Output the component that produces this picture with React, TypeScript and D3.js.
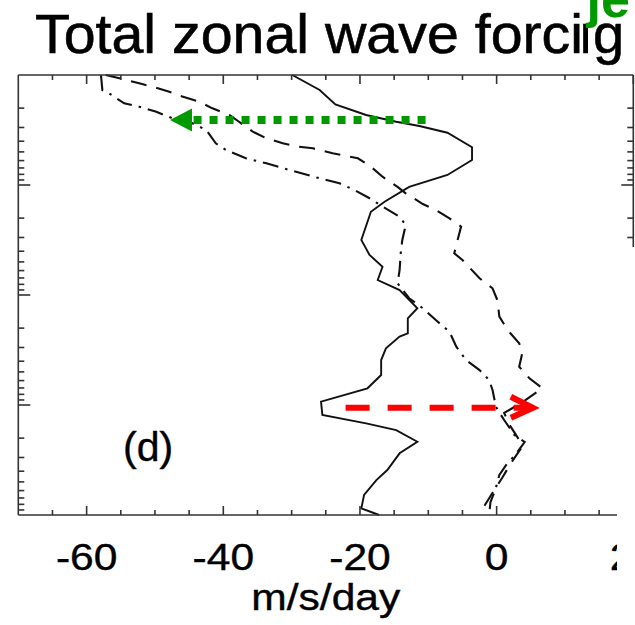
import React from "react";
import * as d3 from "d3";

const W = 635;
const H = 625;

// Solid curve: pressure levels (hPa) and forcing (m/s/day)
const solidP = [0.1, 0.137, 0.185, 0.231, 0.266, 0.291, 0.335, 0.454, 0.593, 0.811, 1.04, 1.42, 1.75, 3.16, 4.33, 5.53, 7.31, 9.01, 13.2, 16.3, 22.3, 23.9, 30.5, 39.0, 53.4, 70.5, 93.3, 123, 147, 169, 216, 275, 390, 481, 658, 869, 1000];
const solidU = [-29.9, -25.9, -23.6, -19.1, -14.7, -11.3, -7.2, -3.6, -3.6, -7.2, -12.8, -16.4, -18.4, -19.8, -18.6, -16.7, -17.4, -14.2, -11.6, -13.0, -13.0, -14.2, -16.2, -16.9, -16.9, -18.9, -25.7, -25.5, -19.1, -14.7, -11.6, -14.2, -16.0, -17.6, -19.4, -19.8, -17.2];

// Dashed curve
const dashedP = [0.1, 0.107, 0.119, 0.128, 0.142, 0.157, 0.175, 0.201, 0.231, 0.266, 0.327, 0.376, 0.418, 0.449, 0.464, 0.515, 0.572, 0.682, 0.841, 1.04, 1.19, 1.49, 1.69, 2.01, 2.39, 3.51, 4.18, 4.81, 7.05, 8.69, 11.1, 15.7, 20.8, 27.5, 32.7, 44.9, 57.2, 70.5, 95.9, 118, 152, 208, 246, 330, 461, 658, 846, 1000];
const dashedU = [-57.2, -55.2, -52.3, -50.3, -47.9, -46.0, -43.5, -41.6, -39.1, -37.7, -35.7, -33.7, -31.3, -28.9, -26.9, -24.0, -20.3, -18.4, -16.7, -14.5, -13.3, -10.8, -8.9, -6.9, -5.2, -5.9, -6.2, -5.0, -2.5, -0.6, 0.1, 0.4, 1.6, 3.3, 3.8, 3.3, 4.8, 6.7, 3.6, 1.1, 1.9, 3.3, 3.6, 2.2, 0.8, -0.8, -1.9, -2.1];

// Dash-dot curve
const dashDotP = [0.1, 0.137, 0.147, 0.181, 0.194, 0.216, 0.248, 0.275, 0.316, 0.418, 0.481, 0.572, 0.635, 0.731, 0.869, 0.966, 1.11, 1.32, 1.57, 1.94, 2.31, 3.16, 3.90, 5.93, 7.83, 10.7, 13.2, 16.9, 21.6, 29.5, 39.0, 48.1, 59.3, 73.1, 104, 137, 187, 217, 285, 351, 433, 593, 762, 1000];
const dashDotU = [-57.9, -57.7, -56.7, -54.5, -52.3, -49.8, -47.4, -44.5, -42.5, -41.1, -39.6, -36.7, -33.7, -30.3, -25.9, -23.0, -20.8, -18.6, -16.7, -14.2, -13.3, -13.8, -14.0, -14.2, -14.5, -12.8, -10.8, -8.9, -6.9, -5.9, -4.5, -2.5, -1.1, -0.6, -0.1, 1.1, 2.6, 4.1, 2.7, 1.4, 0.4, -0.2, -0.9, -1.1];

const xTickValues = [-60, -40, -20, 0, 20];
const xTickLabels = ["-60", "-40", "-20", "0", "20"];
const yDecades = [0.1, 1, 10, 100];

const titleMain = "Total zonal wave forci";
const titleN = "n";
const titleG = "g";
const xAxisTitle = "m/s/day";
const panelLabel = "(d)";
const cornerLabel = "je";

const redArrowU = [-22.1, 5.3];
const redArrowP = 106;
const greenArrowU = [-10.4, -47.8];
const greenArrowP = 0.257;

const FONT = "'Liberation Sans', Arial, Helvetica, sans-serif";

export default function App() {
  const x = d3.scaleLinear().domain([-70, 20]).range([18.3, 633.3]);
  const y = d3.scaleLog().domain([1000, 0.1]).range([515, 75]);
  const [x0, x1] = x.range();
  const [yb, yt] = y.range();

  const line = d3
    .line<[number, number]>()
    .x((d) => x(d[0]))
    .y((d) => y(d[1]));
  const pts = (P: number[], U: number[]) => P.map((p, i) => [U[i], p] as [number, number]);

  const xMinor = d3.range(-65, 20, 5).filter((v) => !xTickValues.includes(v));
  const yMinor: number[] = [];
  yDecades.forEach((d) => {
    for (let k = 2; k <= 9; k++) yMinor.push(d * k);
  });
  const yMajor = [1, 10, 100];

  const axisColor = "#333";
  const green = "#009a00";
  const red = "#ff0000";

  const ry = y(redArrowP);
  const rx0 = x(redArrowU[0]);
  const rx1 = x(redArrowU[1]);
  const gy = y(greenArrowP);
  const gx0 = x(greenArrowU[0]);
  const gtip = x(greenArrowU[1]);

  return (
    <svg
      width={W}
      height={H}
      style={{ position: "absolute", left: 0, top: 0, background: "#fff" }}
    >
      <defs>
        <clipPath id="nclip">
          <rect x={0} y={0} width={588} height={80} />
        </clipPath>
      </defs>
      <rect x={0} y={0} width={W} height={H} fill="#fff" />

      {/* curves */}
      <path d={line(pts(solidP, solidU)) || ""} fill="none" stroke="#111" strokeWidth={1.9} />
      <path
        d={line(pts(dashedP, dashedU)) || ""}
        fill="none"
        stroke="#111"
        strokeWidth={2.1}
        strokeDasharray="16 10"
      />
      <path
        d={line(pts(dashDotP, dashDotU)) || ""}
        fill="none"
        stroke="#111"
        strokeWidth={2.1}
        strokeDasharray="16 7 2.5 7"
      />

      {/* frame */}
      <g stroke={axisColor} strokeWidth={1.6} fill="none">
        <line x1={x0} x2={x1} y1={yt} y2={yt} />
        <line x1={x0} x2={x1} y1={yb} y2={yb} />
        <line x1={x0} x2={x0} y1={yt} y2={yb} />
        <line x1={x1} x2={x1} y1={yt} y2={yb} />
        {xMinor.map((v) => (
          <g key={"xm" + v}>
            <line x1={x(v)} x2={x(v)} y1={yb} y2={yb - 5} />
            <line x1={x(v)} x2={x(v)} y1={yt} y2={yt + 5} />
          </g>
        ))}
        {xTickValues.map((v) => (
          <g key={"xM" + v}>
            <line x1={x(v)} x2={x(v)} y1={yb} y2={yb - 9} />
            <line x1={x(v)} x2={x(v)} y1={yt} y2={yt + 9} />
          </g>
        ))}
        {yMinor.map((v) => (
          <g key={"ym" + v}>
            <line x1={x0} x2={x0 + 6} y1={y(v)} y2={y(v)} />
            <line x1={x1} x2={x1 - 6} y1={y(v)} y2={y(v)} />
          </g>
        ))}
        {yMajor.map((v) => (
          <g key={"yM" + v}>
            <line x1={x0} x2={x0 + 12} y1={y(v)} y2={y(v)} />
            <line x1={x1} x2={x1 - 12} y1={y(v)} y2={y(v)} />
          </g>
        ))}
      </g>

      {/* tick labels */}
      {xTickValues.map((v, i) => (
        <text
          key={"xl" + v}
          transform={`translate(${x(v)},570) scale(1.15,1)`}
          textAnchor="middle"
          fontSize={37}
          fontFamily={FONT}
          fill="#000"
          stroke="#000"
          strokeWidth={0.4}
        >
          {xTickLabels[i]}
        </text>
      ))}

      {/* overlay covering the right-bottom edge */}
      <rect x={617} y={247} width={30} height={400} fill="#fff" />

      {/* axis title */}
      <text
        transform={`translate(${(x0 + x1) / 2},610) scale(1.15,1)`}
        textAnchor="middle"
        fontSize={37}
        fontFamily={FONT}
        fill="#000"
        stroke="#000"
        strokeWidth={0.4}
      >
        {xAxisTitle}
      </text>

      {/* panel label */}
      <text x={123} y={461} fontSize={41} fontFamily={FONT} fill="#000" stroke="#000" strokeWidth={0.4}>
        {panelLabel}
      </text>

      {/* red dashed arrow */}
      <line
        x1={rx0}
        x2={rx1}
        y1={ry}
        y2={ry}
        stroke={red}
        strokeWidth={6}
        strokeDasharray="24 18"
      />
      <polyline
        points={`${rx1 - 22},${ry - 11} ${rx1},${ry} ${rx1 - 22},${ry + 10}`}
        fill="none"
        stroke={red}
        strokeWidth={6}
        strokeLinejoin="miter"
      />

      {/* green dotted arrow */}
      <line
        x1={gx0}
        x2={gtip + 22}
        y1={gy}
        y2={gy}
        stroke={green}
        strokeWidth={8}
        strokeDasharray="8 8"
      />
      <polygon
        points={`${gtip},${gy} ${gtip + 22},${gy - 11.5} ${gtip + 22},${gy + 11.5}`}
        fill={green}
      />

      {/* title */}
      <text
        x={35}
        y={53}
        fontSize={56}
        fontFamily={FONT}
        fill="#000"
        stroke="#000"
        strokeWidth={0.6}
        textLength={548}
        lengthAdjust="spacingAndGlyphs"
      >
        {titleMain}
      </text>
      <text
        x={579.5}
        y={53}
        fontSize={56}
        fontFamily={FONT}
        fill="#000"
        stroke="#000"
        strokeWidth={0.6}
        clipPath="url(#nclip)"
      >
        {titleN}
      </text>
      <text x={593} y={53} fontSize={56} fontFamily={FONT} fill="#000" stroke="#000" strokeWidth={0.6}>
        {titleG}
      </text>

      {/* green corner label */}
      <text x={586.5} y={17} fontSize={52} fontWeight="bold" fontFamily={FONT} fill={green}>
        {cornerLabel}
      </text>
    </svg>
  );
}
